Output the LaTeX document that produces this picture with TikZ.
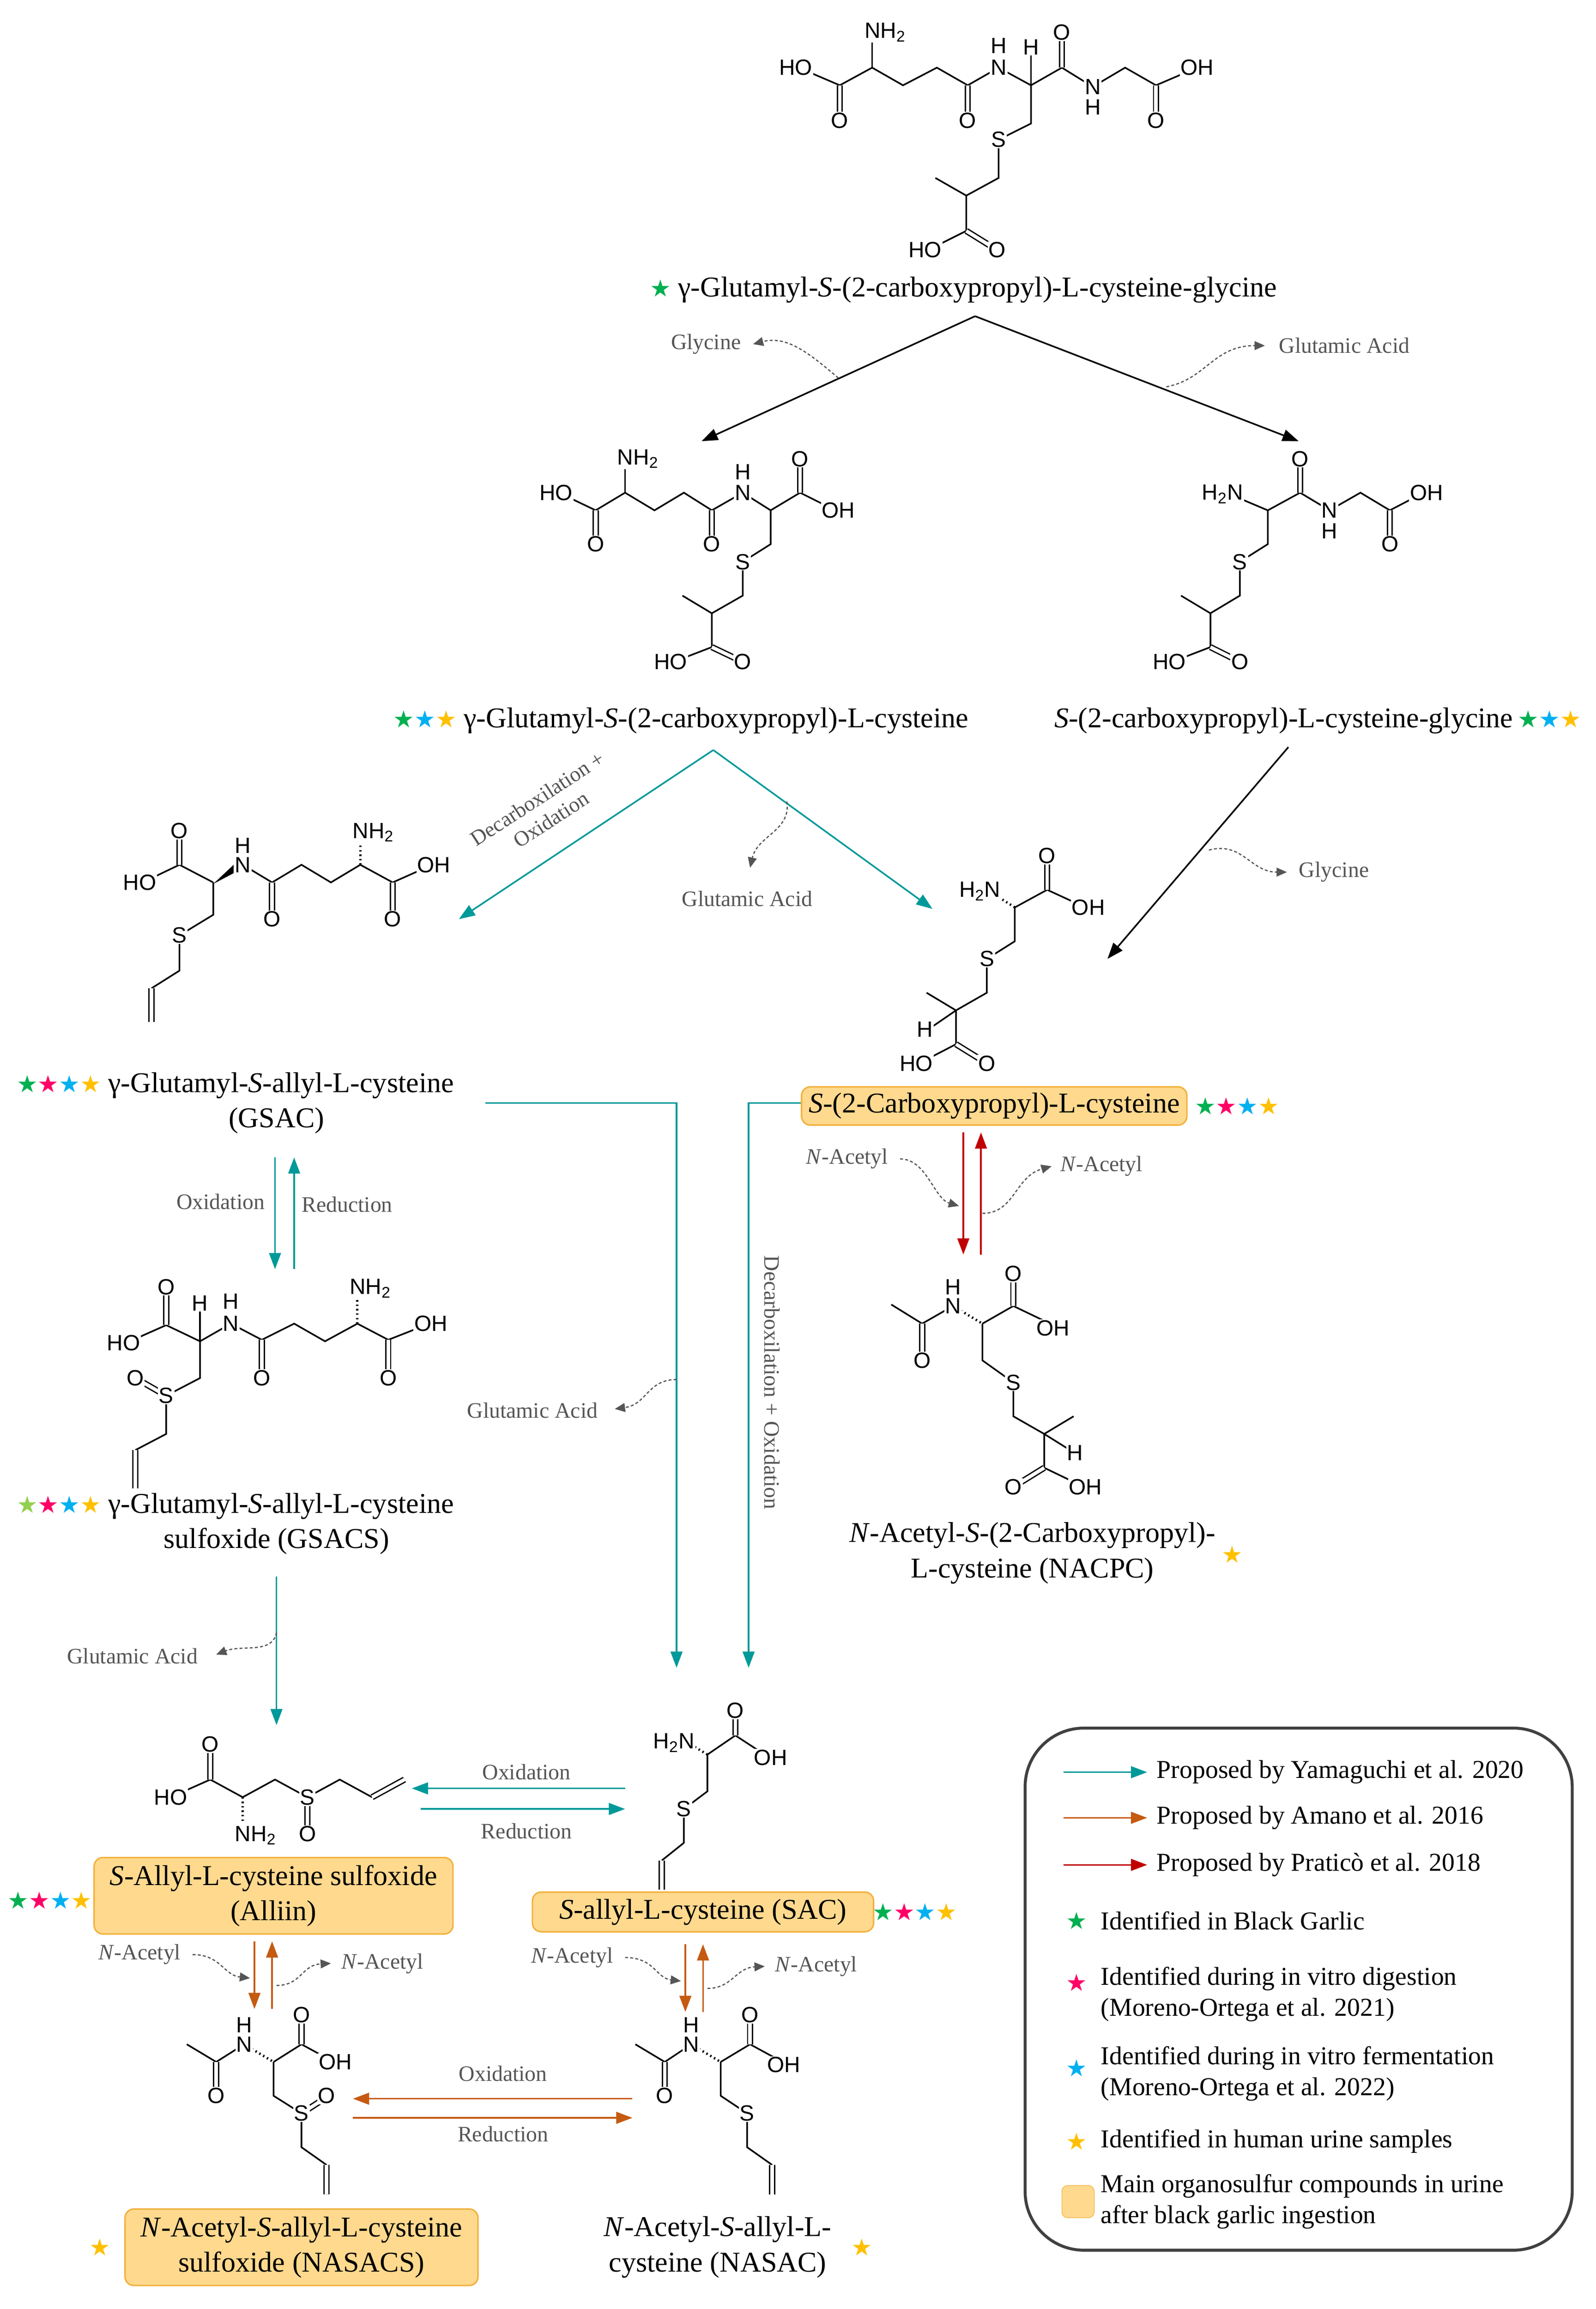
\documentclass[tikz,border=0pt]{standalone}
\usepackage{fontspec}
\setmainfont{Liberation Serif}
\setsansfont{Liberation Sans}
\newfontfamily\symf{DejaVu Sans}
\usetikzlibrary{arrows.meta}
\definecolor{tl}{HTML}{009999}
\definecolor{orng}{HTML}{C55A11}
\definecolor{rred}{HTML}{C00000}
\definecolor{sg}{HTML}{00B050}
\definecolor{slg}{HTML}{92D050}
\definecolor{sp}{HTML}{FF0066}
\definecolor{sb}{HTML}{00B0F0}
\definecolor{sy}{HTML}{FFC000}
\definecolor{boxF}{HTML}{FFD98E}
\definecolor{boxD}{HTML}{F2B13C}
\definecolor{gtx}{HTML}{555555}
\newcommand\st[1]{\textcolor{#1}{\symf\fontsize{16}{16}\selectfont ★}}
\tikzset{
 bond/.style={line width=1.1pt,black},
 dbl/.style={line width=0.9pt,double,double distance=2.4pt},
 hash/.style={line width=1.6pt,dash pattern=on 1pt off 2pt},
 atom/.style={font=\sffamily\fontsize{15}{15}\selectfont,fill=white,inner sep=0.6pt},
 capt/.style={font=\fontsize{19.5}{24}\selectfont,align=center},
 sm/.style={font=\fontsize{15}{16}\selectfont,text=gtx},
 gc/.style={gtx,line width=0.8pt,dash pattern=on 2pt off 1.5pt,-{Triangle[length=7pt,width=6pt]}},
 ar/.style={line width=1.1pt,-{Triangle[length=11pt,width=8pt]}},
 obox/.style={draw=boxD,fill=boxF,rounded corners=6pt,line width=1pt,align=center,capt,inner sep=3pt},
 lg/.style={font=\fontsize{17.5}{21}\selectfont,anchor=west,align=left},
}
\begin{document}
\begin{tikzpicture}[x=1pt,y=-1pt]
\useasboundingbox (0,0) rectangle (1085,1570);
% ---------- S1
\draw[bond] (543,46)--(571,58)--(593,46)--(614,58)--(637,46)--(658,58)--(679,46)--(701,58)--(722,46)--(743,59)--(765,46)--(786,58)--(814,46);
\draw[dbl] (571,58)--(571,82) (658,58)--(658,82) (722,46)--(722,22) (786,58)--(786,82);
\draw[bond] (593,46)--(593,26) (701,58)--(701,34);
\draw[bond] (701,58)--(701,84)--(679,95)--(679,121)--(657,133)--(636,121) (657,133)--(657,157)--(631,170);
\draw[dbl] (657,157)--(678,170);
\node[atom] at (541,46) {HO}; \node[atom] at (571,82) {O}; \node[atom,anchor=west] at (587,22) {NH\textsubscript{2}};
\node[atom] at (658,82) {O};
\node[atom] at (679,46) {N}; \node[atom] at (679,31) {H}; \node[atom] at (701,32) {H}; \node[atom] at (722,22) {O};
\node[atom] at (743,59) {N}; \node[atom] at (743,73) {H}; \node[atom] at (786,82) {O}; \node[atom] at (814,46) {OH};
\node[atom] at (679,95) {S}; \node[atom] at (629,170) {HO}; \node[atom] at (678,170) {O};
\node[capt] (c1) at (655,197) {\st{sg}\ γ-Glutamyl-\textit{S}-(2-carboxypropyl)-L-cysteine-glycine};
% arrows from S1
\coordinate (top) at (663,215);
\draw[ar] (top)--(477,300);
\draw[ar] (top)--(883,300);
\node[sm] (gly1) at (480,234) {Glycine};
\draw[gc] (570,257) .. controls (550,240) and (535,228) .. (512,234);
\node[sm] (glu1) at (914,235) {Glutamic Acid};
\draw[gc] (793,263) .. controls (820,258) and (825,235) .. (860,235);
% ---------- S2
\draw[bond] (380,335)--(405,347)--(425,335)--(445,347)--(465,335)--(484,347)--(505,335)--(524,347)--(544,335)--(568,347);
\draw[dbl] (405,347)--(405,370) (484,347)--(484,370) (544,335)--(544,312);
\draw[bond] (425,335)--(425,318);
\draw[bond] (524,347)--(524,370)--(505,382)--(505,405)--(484,417)--(464,405) (484,417)--(484,440)--(458,450);
\draw[dbl] (484,440)--(505,450);
\node[atom] at (378,335) {HO}; \node[atom] at (405,370) {O}; \node[atom,anchor=west] at (419,312) {NH\textsubscript{2}};
\node[atom] at (484,370) {O}; \node[atom] at (505,335) {N}; \node[atom] at (505,321) {H}; \node[atom] at (544,312) {O};
\node[atom] at (570,347) {OH}; \node[atom] at (505,382) {S}; \node[atom] at (456,450) {HO}; \node[atom] at (505,450) {O};
\node[capt] (c2) at (463,490) {\st{sg}\st{sb}\st{sy}\ γ-Glutamyl-\textit{S}-(2-carboxypropyl)-L-cysteine};
% ---------- S3
\draw[bond] (836,336)--(862,347)--(884,335)--(904,347)--(925,335)--(945,347)--(968,335);
\draw[dbl] (884,335)--(884,312) (945,347)--(945,370);
\draw[bond] (862,347)--(862,370)--(843,382)--(843,405)--(823,417)--(803,405) (823,417)--(823,440)--(797,450);
\draw[dbl] (823,440)--(843,450);
\node[atom,anchor=east] at (846,336) {H\textsubscript{2}N}; \node[atom] at (884,312) {O}; \node[atom] at (904,347) {N};
\node[atom] at (904,361) {H}; \node[atom] at (945,370) {O}; \node[atom] at (970,335) {OH}; \node[atom] at (843,382) {S};
\node[atom] at (795,450) {HO}; \node[atom] at (843,450) {O};
\node[capt] (c3) at (896,490) {\textit{S}-(2-carboxypropyl)-L-cysteine-glycine\,\st{sg}\st{sb}\st{sy}};
% arrows from S2
\coordinate (m2) at (485,510);
\draw[ar,tl] (m2)--(312,625);
\draw[ar,tl] (m2)--(634,618);
\node[font=\fontsize{14.5}{17}\selectfont,text=gtx,rotate=33,align=center] at (370,550) {Decarboxilation +\\Oxidation};
\draw[gc] (535,545) .. controls (538,565) and (515,568) .. (510,590);
\node[sm] (glu2) at (508,611) {Glutamic Acid};
\draw[ar] (876,508)--(753,652);
\draw[gc] (822,578) .. controls (845,572) and (850,593) .. (875,593);
\node[sm] (gly2) at (907,593) {Glycine};
% ---------- S4 GSAC
\draw[bond] (97,600)--(122,588)--(145,600) (165,588)--(185,600)--(205,588)--(225,600)--(245,588)--(267,600)--(294,588);
\fill (145,601)--(161,586)--(164,591)--cycle;
\draw[dbl] (122,588)--(122,565) (185,600)--(185,625) (267,600)--(267,625);
\draw[hash] (245,588)--(245,571);
\draw[bond] (145,600)--(145,622)--(122,636)--(122,660)--(103,672);
\draw[dbl] (103,672)--(103,695);
\node[atom] at (95,600) {HO}; \node[atom] at (122,565) {O}; \node[atom] at (165,588) {N}; \node[atom] at (165,575) {H};
\node[atom] at (185,625) {O}; \node[atom,anchor=west] at (239,566) {NH\textsubscript{2}}; \node[atom] at (267,625) {O};
\node[atom] at (295,588) {OH}; \node[atom] at (122,636) {S};
\node[capt] (c4) at (160,750) {\st{sg}\st{sp}\st{sb}\st{sy}\ γ-Glutamyl-\textit{S}-allyl-L-cysteine\\\hspace*{56pt}(GSAC)};
% ox/red GSAC-GSACS
\draw[ar,tl] (187,787)--(187,863);
\draw[ar,tl] (200,863)--(200,787);
\node[sm] (ox1) at (150,817) {Oxidation};
\node[sm] (re1) at (236,819) {Reduction};
% ---------- S5 GSACS
\draw[bond] (86,913)--(113,901)--(136,912)--(157,900)--(178,911)--(200,900)--(221,912)--(243,900)--(264,911)--(292,900);
\draw[dbl] (113,901)--(113,875) (178,911)--(178,937) (264,911)--(264,937);
\draw[bond] (136,912)--(136,890);
\draw[hash] (243,900)--(243,882);
\draw[bond] (136,912)--(136,937)--(113,949)--(113,975)--(92,986);
\draw[dbl] (92,986)--(92,1012) (113,949)--(92,937);
\node[atom] at (84,913) {HO}; \node[atom] at (113,875) {O}; \node[atom] at (136,886) {H}; \node[atom] at (157,900) {N};
\node[atom] at (157,885) {H}; \node[atom] at (178,937) {O}; \node[atom,anchor=west] at (237,876) {NH\textsubscript{2}};
\node[atom] at (264,937) {O}; \node[atom] at (293,900) {OH}; \node[atom] at (113,949) {S}; \node[atom] at (92,937) {O};
\node[capt] (c5) at (160,1036) {\st{slg}\st{sp}\st{sb}\st{sy}\ γ-Glutamyl-\textit{S}-allyl-L-cysteine\\\hspace*{56pt}sulfoxide (GSACS)};
\draw[ar,tl] (188,1072)--(188,1173);
\draw[gc] (188,1110) .. controls (185,1125) and (165,1118) .. (147,1125);
\node[sm] (glu3) at (90,1126) {Glutamic Acid};
% long teal paths
\draw[ar,tl] (330,750)--(460,750)--(460,1134);
\draw[gc] (460,938) .. controls (440,938) and (440,955) .. (418,958);
\node[sm] (glu4) at (362,959) {Glutamic Acid};
\draw[ar,tl] (545,750)--(509,750)--(509,1134);
\node[font=\fontsize{15}{15}\selectfont,text=gtx,rotate=-90] at (525,940) {Decarboxilation + Oxidation};
% ---------- S6 SCPC
\draw[hash] (690,617)--(679,610);
\draw[bond] (690,617)--(712,605)--(738,617);
\draw[dbl] (712,605)--(712,582);
\draw[bond] (690,617)--(690,640)--(671,652)--(671,675)--(650,687)--(630,675) (650,687)--(634,698) (650,687)--(650,710)--(625,723);
\draw[dbl] (650,710)--(671,723);
\node[atom,anchor=east] at (681,606) {H\textsubscript{2}N}; \node[atom] at (712,582) {O}; \node[atom] at (740,617) {OH};
\node[atom] at (671,652) {S}; \node[atom] at (629,700) {H}; \node[atom] at (623,723) {HO}; \node[atom] at (671,723) {O};
\node[obox,minimum width=262pt,minimum height=26pt] (scpc) at (676,752) {\textit{S}-(2-Carboxypropyl)-L-cysteine};
\node[capt] at (841,752) {\st{sg}\st{sp}\st{sb}\st{sy}};
\draw[ar,rred] (655,770)--(655,853);
\draw[ar,rred] (667,853)--(667,770);
\node[sm] (na1) at (576,788) {\textit{N}-Acetyl};
\draw[gc] (612,788) .. controls (630,788) and (635,815) .. (652,820);
\draw[gc] (668,825) .. controls (690,825) and (690,800) .. (715,793);
\node[sm] (na2) at (749,793) {\textit{N}-Acetyl};
% ---------- S7 NACPC
\draw[bond] (606,887)--(627,900)--(648,888) (668,900)--(689,888)--(714,900);
\draw[hash] (648,888)--(668,900);
\draw[dbl] (627,900)--(627,925) (689,888)--(689,866);
\draw[bond] (668,900)--(668,925)--(689,940)--(689,963)--(710,975)--(730,963) (710,975)--(726,985) (710,975)--(710,998)--(737,1011);
\draw[dbl] (710,998)--(689,1011);
\node[atom] at (627,925) {O}; \node[atom] at (648,888) {N}; \node[atom] at (648,875) {H}; \node[atom] at (689,866) {O};
\node[atom] at (716,903) {OH}; \node[atom] at (689,940) {S}; \node[atom] at (731,988) {H}; \node[atom] at (689,1011) {O};
\node[atom] at (738,1011) {OH};
\node[capt] (c7) at (702,1056) {\textit{N}-Acetyl-\textit{S}-(2-Carboxypropyl)-\\L-cysteine (NACPC)};
\node[capt] at (838,1057) {\st{sy}};
% ---------- S8 Alliin
\draw[bond] (116,1222)--(143,1210)--(165,1222)--(187,1210)--(209,1222)--(231,1210)--(253,1222);
\draw[dbl] (253,1222)--(275,1210) (143,1210)--(143,1186) (209,1222)--(209,1247);
\draw[hash] (165,1222)--(165,1240);
\node[atom] at (116,1222) {HO}; \node[atom] at (143,1186) {O}; \node[atom] at (209,1222) {S}; \node[atom] at (209,1247) {O};
\node[atom,anchor=west] at (159,1248) {NH\textsubscript{2}};
\node[obox,minimum width=244pt,minimum height=52pt] (alliin) at (186,1289) {\textit{S}-Allyl-L-cysteine sulfoxide\\(Alliin)};
\node[capt] at (34,1292) {\st{sg}\st{sp}\st{sb}\st{sy}};
\draw[ar,tl] (425,1216)--(280,1216);
\draw[ar,tl] (286,1230)--(425,1230);
\node[sm] at (358,1205) {Oxidation};
\node[sm] at (358,1245) {Reduction};
% ---------- S9 SAC
\draw[hash] (481,1193)--(471,1187);
\draw[bond] (481,1193)--(500,1180)--(523,1195);
\draw[dbl] (500,1180)--(500,1163);
\draw[bond] (481,1193)--(481,1218)--(465,1230)--(465,1253)--(450,1265);
\draw[dbl] (450,1265)--(450,1285);
\node[atom,anchor=east] at (473,1185) {H\textsubscript{2}N}; \node[atom] at (500,1163) {O}; \node[atom] at (524,1195) {OH};
\node[atom] at (465,1230) {S};
\node[obox,minimum width=232pt,minimum height=27pt] (sac) at (478,1300) {\textit{S}-allyl-L-cysteine (SAC)};
\node[capt] at (622,1300) {\st{sg}\st{sp}\st{sb}\st{sy}};
% N-acetyl arrows
\draw[ar,orng] (173,1320)--(173,1366);
\draw[ar,orng] (185,1366)--(185,1320);
\node[sm] at (95,1329) {\textit{N}-Acetyl};
\draw[gc] (131,1329) .. controls (150,1329) and (152,1343) .. (170,1345);
\draw[gc] (188,1350) .. controls (205,1350) and (205,1336) .. (225,1335);
\node[sm] at (260,1335) {\textit{N}-Acetyl};
\draw[ar,orng] (466,1322)--(466,1368);
\draw[ar,orng] (478,1368)--(478,1322);
\node[sm] at (389,1331) {\textit{N}-Acetyl};
\draw[gc] (425,1331) .. controls (445,1331) and (446,1345) .. (463,1347);
\draw[gc] (481,1352) .. controls (498,1352) and (500,1338) .. (520,1337);
\node[sm] at (555,1337) {\textit{N}-Acetyl};
% ---------- S10 NASACS
\draw[bond] (127,1390)--(147,1402)--(166,1390) (186,1402)--(205,1390)--(227,1402);
\draw[hash] (166,1390)--(186,1402);
\draw[dbl] (147,1402)--(147,1425) (205,1390)--(205,1370);
\draw[bond] (186,1402)--(186,1425)--(205,1437)--(205,1460)--(222,1472);
\draw[dbl] (222,1472)--(222,1492) (205,1437)--(222,1426);
\node[atom] at (147,1425) {O}; \node[atom] at (166,1390) {N}; \node[atom] at (166,1377) {H}; \node[atom] at (205,1370) {O};
\node[atom] at (228,1402) {OH}; \node[atom] at (205,1437) {S}; \node[atom] at (222,1425) {O};
\node[obox,minimum width=240pt,minimum height=52pt] (nasacs) at (205,1528) {\textit{N}-Acetyl-\textit{S}-allyl-L-cysteine\\sulfoxide (NASACS)};
\node[capt] at (68,1528) {\st{sy}};
% ---------- S11 NASAC
\draw[bond] (432,1390)--(452,1402)--(470,1390) (490,1402)--(510,1390)--(532,1402);
\draw[hash] (470,1390)--(490,1402);
\draw[dbl] (452,1402)--(452,1425) (510,1390)--(510,1370);
\draw[bond] (490,1402)--(490,1425)--(508,1437)--(508,1460)--(525,1472);
\draw[dbl] (525,1472)--(525,1492);
\node[atom] at (452,1425) {O}; \node[atom] at (470,1390) {N}; \node[atom] at (470,1377) {H}; \node[atom] at (510,1370) {O};
\node[atom] at (533,1404) {OH}; \node[atom] at (508,1437) {S};
\node[capt] (c11) at (488,1528) {\textit{N}-Acetyl-\textit{S}-allyl-L-\\cysteine (NASAC)};
\node[capt] at (586,1528) {\st{sy}};
\draw[ar,orng] (430,1427)--(240,1427);
\draw[ar,orng] (240,1440)--(430,1440);
\node[sm] at (342,1410) {Oxidation};
\node[sm] at (342,1451) {Reduction};
% ---------- legend
\draw[line width=2pt,draw=black!75,rounded corners=40pt] (697,1175) rectangle (1069,1530);
\draw[ar,tl] (723,1205)--(780,1205); \node[lg] at (783,1205) {Proposed by Yamaguchi et al. 2020};
\draw[ar,orng] (723,1236)--(780,1236); \node[lg] at (783,1236) {Proposed by Amano et al. 2016};
\draw[ar,rred] (723,1268)--(780,1268); \node[lg] at (783,1268) {Proposed by Praticò et al. 2018};
\node at (732,1306) {\st{sg}}; \node[lg] at (745,1306) {Identified in Black Garlic};
\node at (732,1348) {\st{sp}}; \node[lg] at (745,1356) {Identified during in vitro digestion\\(Moreno-Ortega et al. 2021)};
\node at (732,1406) {\st{sb}}; \node[lg] at (745,1410) {Identified during in vitro fermentation\\(Moreno-Ortega et al. 2022)};
\node at (732,1456) {\st{sy}}; \node[lg] at (745,1456) {Identified in human urine samples};
\node[draw=boxD,fill=boxF,rounded corners=4pt,minimum width=22pt,minimum height=22pt] at (733,1497) {};
\node[lg] at (745,1497) {Main organosulfur compounds in urine\\after black garlic ingestion};
\end{tikzpicture}
\end{document}
